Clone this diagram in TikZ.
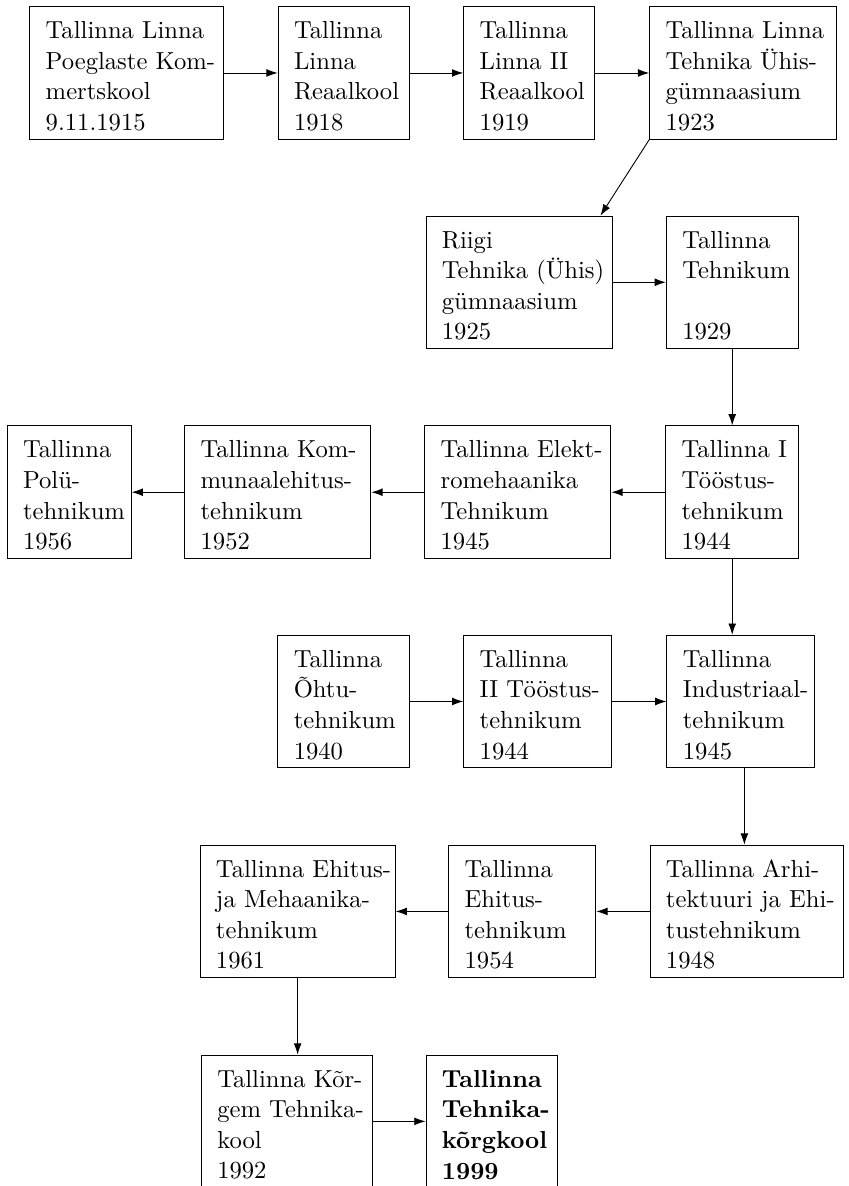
\documentclass[11pt,tikz,border=0pt]{standalone}
\usetikzlibrary{arrows.meta,calc}

\begin{document}
\begin{tikzpicture}[>={Latex[length=5pt,width=3.5pt]},
  stage/.style={draw, align=left, text width=#1, inner xsep=0pt, inner ysep=3.65pt,
                text height=10.6pt, execute at begin node={\leftskip=7.1pt}}]

\useasboundingbox (0,0) rectangle (13.25,-18.53);

% --- 1915 - 1925 ---
\node[stage=3.03cm] (komm1915) at (1.98,-1.14)  {Tallinna~Linna\\Poeglaste~Kom-\\mertskool\\9.11.1915};
\node[stage=2.05cm] (real1918) at (5.37,-1.14)  {Tallinna\\Linna\\Reaalkool\\1918};
\node[stage=2.05cm] (real1919) at (8.27,-1.14)  {Tallinna\\Linna~II\\Reaalkool\\1919};
\node[stage=2.92cm] (tehg1923) at (11.61,-1.14) {Tallinna~Linna\\Tehnika~Ühis-\\gümnaasium\\1923};
\node[stage=2.91cm] (riigi1925) at (8.11,-4.41) {Riigi\\Tehnika~(Ühis)\\gümnaasium\\1925};
\node[stage=2.06cm] (tehn1929) at (11.44,-4.41) {Tallinna\\Tehnikum\\\mbox{}\\1929};

% --- 1940 - 1956 ---
\node[stage=1.94cm] (poly1956) at (1.08,-7.69)  {Tallinna\\Polü-\\tehnikum\\1956};
\node[stage=2.91cm] (komm1952) at (4.34,-7.69)  {Tallinna~Kom-\\munaalehitus-\\tehnikum\\1952};
\node[stage=2.91cm] (elek1945) at (8.09,-7.69)  {Tallinna~Elekt-\\romehaanika\\Tehnikum\\1945};
\node[stage=2.08cm] (toos1944) at (11.44,-7.69) {Tallinna~I\\Tööstus-\\tehnikum\\1944};
\node[stage=2.06cm] (ohtu1940) at (5.37,-10.96) {Tallinna\\Õhtu-\\tehnikum\\1940};
\node[stage=2.31cm] (tiit1944) at (8.40,-10.96) {Tallinna\\II~Tööstus-\\tehnikum\\1944};
\node[stage=2.30cm] (indu1945) at (11.57,-10.96) {Tallinna\\Industriaal-\\tehnikum\\1945};

% --- 1948 - 1999 ---
\node[stage=3.05cm] (ehme1961) at (4.65,-14.24) {Tallinna~Ehitus-\\ja~Mehaanika-\\tehnikum\\1961};
\node[stage=2.30cm] (ehit1954) at (8.16,-14.24) {Tallinna\\Ehitus-\\tehnikum\\1954};
\node[stage=3.03cm] (arhi1948) at (11.67,-14.24) {Tallinna~Arhi-\\tektuuri~ja~Ehi-\\tustehnikum\\1948};
\node[stage=2.67cm] (tkhk1992) at (4.48,-17.52) {Tallinna~Kõr-\\gem~Tehnika-\\kool\\1992};
\node[stage=2.05cm, font=\bfseries] (ttk1999) at (7.68,-17.52) {Tallinna\\Tehnika-\\kõrgkool\\1999};

% --- connections ---
\draw[->](komm1915)--(real1918); \draw[->](real1918)--(real1919); \draw[->](real1919)--(tehg1923);
\draw[->](tehg1923.south west)--($(riigi1925.north east)+(-0.19,0)$);
\draw[->](riigi1925)--(tehn1929); \draw[->](tehn1929)--(toos1944);
\draw[->](toos1944)--(elek1945); \draw[->](elek1945)--(komm1952); \draw[->](komm1952)--(poly1956);
\draw[->](toos1944.south)--(toos1944.south |- indu1945.north);
\draw[->](ohtu1940)--(tiit1944); \draw[->](tiit1944)--(indu1945);
\draw[->]($(indu1945.south)+(0.06,0)$) coordinate (mp)--(mp |- arhi1948.north);
\draw[->](arhi1948)--(ehit1954); \draw[->](ehit1954)--(ehme1961);
\draw[->](ehme1961.south)--(ehme1961.south |- tkhk1992.north);
\draw[->](tkhk1992)--(ttk1999);
\end{tikzpicture}
\end{document}
